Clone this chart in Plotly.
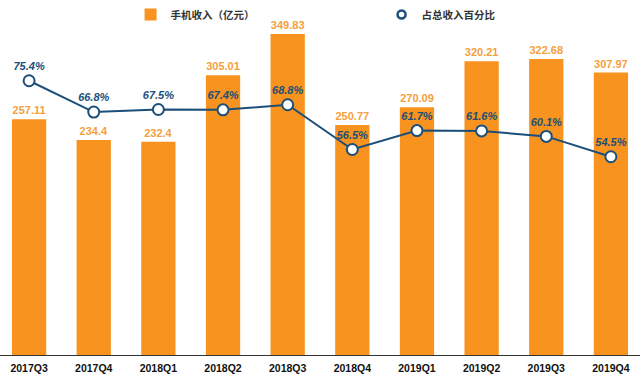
import plotly.graph_objects as go

quarters = ["2017Q3", "2017Q4", "2018Q1", "2018Q2", "2018Q3", "2018Q4", "2019Q1", "2019Q2", "2019Q3", "2019Q4"]
revenue = [257.11, 234.4, 232.4, 305.01, 349.83, 250.77, 270.09, 320.21, 322.68, 307.97]
share = [75.4, 66.8, 67.5, 67.4, 68.8, 56.5, 61.7, 61.6, 60.1, 54.5]
revenue_labels = ["257.11", "234.4", "232.4", "305.01", "349.83", "250.77", "270.09", "320.21", "322.68", "307.97"]
share_labels = [f"{v}%" for v in share]

FONT = "Arial, Liberation Sans, Noto Sans CJK SC, sans-serif"
NARROW = "Liberation Sans Narrow, Arial Narrow, Arial, sans-serif"
ORANGE = "#F7931E"
BLUE = "#1B4F7A"

fig = go.Figure()
fig.add_trace(go.Bar(
    x=quarters, y=revenue, name="手机收入（亿元）",
    marker=dict(color=ORANGE, line=dict(width=0)),
    text=revenue_labels, textposition="outside", cliponaxis=False,
    textfont=dict(color="#F5A03C", size=11, family=FONT, weight="bold"),
    hoverinfo="skip",
))
fig.add_trace(go.Scatter(
    x=quarters, y=share, name="占总收入百分比", yaxis="y2",
    mode="lines+markers+text", showlegend=False,
    line=dict(color=BLUE, width=2),
    marker=dict(size=11, color="white", line=dict(color=BLUE, width=2)),
    text=share_labels, textposition="top center", cliponaxis=False,
    textfont=dict(color=BLUE, size=11, family=FONT, weight="bold", style="italic"),
    hoverinfo="skip",
))
# legend-only entry (marker without line, as in the reference legend)
fig.add_trace(go.Scatter(
    x=[None], y=[None], name="占总收入百分比", yaxis="y2", mode="markers",
    marker=dict(size=8, color="white", line=dict(color=BLUE, width=2.5)),
    hoverinfo="skip",
))

fig.update_layout(
    width=640, height=375,
    margin=dict(l=0, r=0, t=0, b=20),
    plot_bgcolor="white", paper_bgcolor="white",
    bargap=0.47,
    font=dict(family=FONT, color="#333333"),
    showlegend=True,
    legend=dict(
        orientation="h", x=0.204, y=1.0, xanchor="left", yanchor="top",
        entrywidth=206, entrywidthmode="pixels",
        font=dict(size=10.5, color="#333333", family=FONT, weight="bold"),
        bgcolor="rgba(0,0,0,0)",
    ),
    xaxis=dict(
        range=[-0.45, 9.45], showgrid=False, zeroline=False,
        showline=True, linecolor="#333333", linewidth=1,
        ticks="", ticklabelstandoff=3,
        tickfont=dict(size=10.5, color="#111111", family=NARROW, weight="bold"),
    ),
    yaxis=dict(range=[0, 387], visible=False, showgrid=False),
    yaxis2=dict(range=[0, 97.6], overlaying="y", side="right", visible=False, showgrid=False),
)

fig.write_html(
    "out.html",
    config={"displayModeBar": False},
    post_script="document.body.style.margin='0';document.body.style.padding='0';",
)
